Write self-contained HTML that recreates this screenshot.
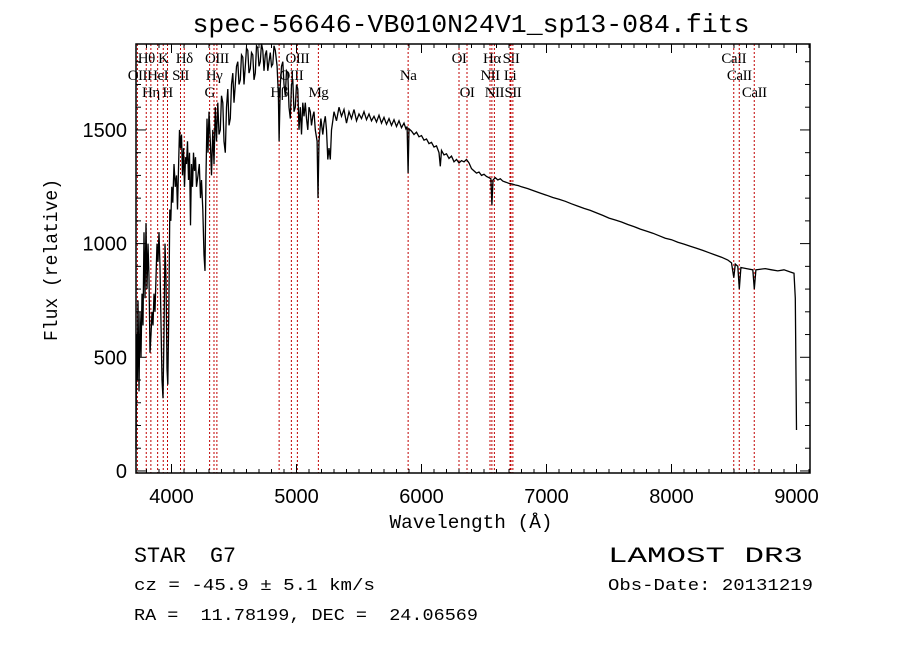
<!DOCTYPE html>
<html><head><meta charset="utf-8"><style>
html,body{margin:0;padding:0;background:#fff;}
svg{display:block;}
text{white-space:pre;}
.mono{font-family:"Liberation Mono",monospace;}
.sans{font-family:"Liberation Sans",sans-serif;}
.serif{font-family:"Liberation Serif",serif;}
</style></head><body>
<svg id="chart" width="900" height="649" viewBox="0 0 900 649" xml:space="preserve">
<rect width="900" height="649" fill="#fff"/>
<text x="471" y="32" text-anchor="middle" class="mono" font-size="26" textLength="557" lengthAdjust="spacingAndGlyphs">spec-56646-VB010N24V1_sp13-084.fits</text>
<g id="lines"></g>
<g id="series"></g>
<g id="axes"></g>
<text x="471" y="528" text-anchor="middle" class="mono" font-size="19" textLength="163" lengthAdjust="spacingAndGlyphs">Wavelength (Å)</text>
<text transform="translate(57,260) rotate(-90)" text-anchor="middle" class="mono" font-size="19" textLength="162" lengthAdjust="spacingAndGlyphs">Flux (relative)</text>
<text x="134" y="562" class="mono" font-size="22" textLength="52" lengthAdjust="spacingAndGlyphs">STAR</text>
<text x="210" y="562" class="mono" font-size="22" textLength="26" lengthAdjust="spacingAndGlyphs">G7</text>
<text x="608" y="562" class="mono" font-size="22" textLength="195" lengthAdjust="spacingAndGlyphs">LAMOST DR3</text>
<text x="134" y="590" class="mono" font-size="17" textLength="241" lengthAdjust="spacingAndGlyphs">cz = -45.9 ± 5.1 km/s</text>
<text x="608" y="590" class="mono" font-size="17" textLength="205" lengthAdjust="spacingAndGlyphs">Obs-Date: 20131219</text>
<text x="134" y="620" class="mono" font-size="17" textLength="344" lengthAdjust="spacingAndGlyphs">RA =  11.78199, DEC =  24.06569</text>
</svg>
<script>
const wavelengths=[
3716,3720,3726,3732,3740,3748,3756,3764,3772,3780,
3788,3796,3804,3812,3820,3828,3836,3844,3852,3860,
3868,3876,3884,3892,3900,3908,3916,3924,3932,3940,
3948,3956,3964,3970,3978,3986,3994,4002,4010,4020,
4030,4040,4048,4056,4064,4072,4080,4088,4096,4104,
4112,4120,4128,4136,4144,4152,4160,4168,4176,4184,
4192,4200,4212,4222,4232,4240,4250,4260,4268,4276,
4284,4292,4300,4310,4320,4330,4340,4350,4360,4370,
4380,4390,4400,4410,4420,4430,4440,4450,4460,4470,
4480,4490,4500,4510,4520,4530,4540,4550,4560,4570,
4580,4590,4600,4610,4620,4630,4640,4650,4660,4670,
4680,4690,4700,4710,4720,4730,4740,4750,4760,4770,
4780,4790,4800,4810,4820,4830,4845,4855,4861,4870,
4880,4890,4900,4910,4920,4930,4940,4950,4960,4970,
4980,4990,5000,5010,5020,5030,5040,5050,5060,5070,
5080,5090,5100,5110,5120,5130,5140,5150,5165,5172,
5180,5195,5210,5220,5230,5240,5250,5260,5270,5280,
5290,5300,5320,5340,5360,5380,5400,5420,5440,5460,
5480,5500,5520,5540,5560,5580,5600,5620,5640,5660,
5680,5700,5720,5740,5760,5780,5800,5820,5840,5860,
5875,5885,5893,5900,5920,5940,5960,5980,6000,6020,
6040,6060,6080,6100,6120,6140,6150,6160,6180,6200,
6220,6240,6260,6280,6300,6320,6340,6360,6380,6400,
6420,6440,6460,6480,6500,6520,6540,6555,6563,6572,
6590,6610,6630,6650,6675,6700,6725,6750,6775,6800,
6850,6900,6950,7000,7050,7100,7150,7200,7250,7300,
7350,7400,7450,7500,7550,7600,7650,7700,7750,7800,
7850,7900,7950,8000,8050,8100,8150,8200,8250,8300,
8350,8400,8450,8480,8498,8510,8530,8542,8555,8600,
8650,8662,8675,8750,8800,8850,8900,8950,8980,8990,
9000];
const fluxes=[
100,600,400,750,350,700,500,780,640,1050,
760,1090,800,1000,850,520,600,700,640,780,
700,850,1000,920,1050,900,650,400,320,600,
1000,850,450,380,700,1150,1100,1250,1180,1350,
1250,1300,1150,1330,1500,1420,1480,1300,1420,1250,
1380,1350,1450,1280,1400,1080,1350,1250,1400,1320,
1380,1250,1300,1350,1200,1280,1150,950,880,1300,
1550,1400,1580,1450,1300,1500,1350,1600,1450,1620,
1480,1500,1650,1620,1450,1400,1600,1680,1520,1550,
1700,1750,1620,1700,1780,1800,1700,1720,1830,1820,
1700,1780,1860,1850,1750,1770,1840,1830,1720,1750,
1870,1860,1780,1800,1880,1850,1760,1830,1850,1760,
1800,1840,1780,1790,1870,1850,1780,1650,1450,1700,
1780,1800,1700,1650,1760,1750,1600,1550,1700,1720,
1580,1600,1700,1680,1500,1600,1480,1620,1560,1620,
1550,1500,1600,1580,1520,1560,1580,1500,1450,1200,
1450,1550,1480,1530,1560,1500,1370,1420,1370,1500,
1540,1580,1540,1600,1560,1590,1530,1580,1550,1590,
1540,1570,1550,1580,1545,1570,1540,1560,1535,1565,
1530,1555,1525,1550,1520,1545,1515,1540,1510,1530,
1505,1515,1310,1505,1495,1480,1490,1470,1475,1455,
1460,1440,1445,1425,1430,1400,1340,1410,1390,1395,
1375,1385,1360,1370,1355,1365,1360,1370,1355,1330,
1320,1310,1315,1300,1305,1295,1290,1285,1170,1280,
1290,1280,1285,1275,1270,1265,1262,1258,1255,1250,
1242,1232,1222,1213,1203,1195,1186,1175,1165,1155,
1146,1135,1124,1112,1104,1095,1084,1075,1064,1055,
1046,1035,1024,1017,1006,998,988,980,970,960,
950,940,928,915,850,910,900,800,895,890,
885,800,885,890,885,880,885,875,870,760,
180];
const lineNames=["OII","Hθ","Hη","HeI","K","H","SII","Hδ","G","Hγ","OIII","Hβ","OIII","OIII","Mg","Na","OI","OI","NII","Hα","NII","Li","SII","SII","CaII","CaII","CaII"];
const lineWaves=[3727,3798,3835,3889,3934,3968,4072,4102,4305,4340,4363,4861,4959,5007,5175,5893,6300,6364,6548,6563,6583,6708,6716,6731,8498,8542,8662];
const lineRows=[2,1,3,2,1,3,2,1,3,2,1,3,2,1,3,2,1,3,2,1,3,2,1,3,1,2,3];
const xTicks=[4000,5000,6000,7000,8000,9000];
const yTicks=[0,500,1000,1500];

const X0=136,X1=810,Y0=44,Y1=473;
const WMIN=3716,WMAX=9108;
const FMIN=-9,FMAX=1878;
function xs(w){return X0+(w-WMIN)*(X1-X0)/(WMAX-WMIN);}
function ys(f){return Y1-(f-FMIN)*(Y1-Y0)/(FMAX-FMIN);}
const NS="http://www.w3.org/2000/svg";
function mk(tag,attrs,parent){const e=document.createElementNS(NS,tag);for(const k in attrs)e.setAttribute(k,attrs[k]);parent.appendChild(e);return e;}

const gl=document.getElementById('lines');
const rowY=[0,63,80,97];
lineWaves.forEach((w,i)=>{
  const x=xs(w);
  const ln=mk('line',{x1:x,x2:x,y1:Y0,y2:Y1,stroke:'#c00000','stroke-width':1,'stroke-dasharray':'2,2'},gl);
  
  
  const t=mk('text',{x:x,y:rowY[lineRows[i]],'text-anchor':'middle','font-size':15,'letter-spacing':'-0.5','class':'serif'},gl);
  t.textContent=lineNames[i];
  
  
});

const gs=document.getElementById('series');
const n=Math.min(wavelengths.length,fluxes.length);
const pts=[];
for(let i=0;i<n;i++)pts.push(xs(wavelengths[i]).toFixed(1)+','+ys(fluxes[i]).toFixed(1));
const pl=mk('polyline',{points:pts.join(' '),fill:'none',stroke:'#000','stroke-width':1.3,'stroke-linejoin':'miter'},gs);



const ga=document.getElementById('axes');
const frame=mk('rect',{x:X0,y:Y0,width:X1-X0,height:Y1-Y0,fill:'none',stroke:'#000','stroke-width':1.5},ga);


for(let w=3800;w<=9100;w+=100){
  const x=xs(w);const major=(w%1000===0);const L=major?9:4;
  mk('line',{x1:x,x2:x,y1:Y1,y2:Y1-L,stroke:'#000','stroke-width':1},ga);
  mk('line',{x1:x,x2:x,y1:Y0,y2:Y0+L,stroke:'#000','stroke-width':1},ga);
}
xTicks.forEach(w=>{
  const t=mk('text',{x:xs(w),y:503,'text-anchor':'middle','font-size':20,'class':'sans'},ga);
  t.textContent=w;
  
  
});
for(let f=0;f<=1800;f+=100){
  const y=ys(f);if(y>Y1)continue;const major=(f%500===0);const L=major?10:5;
  mk('line',{x1:X0,x2:X0+L,y1:y,y2:y,stroke:'#000','stroke-width':1},ga);
  mk('line',{x1:X1,x2:X1-L,y1:y,y2:y,stroke:'#000','stroke-width':1},ga);
}
yTicks.forEach(f=>{
  const t=mk('text',{x:127,y:ys(f)+7,'text-anchor':'end','font-size':20,'class':'sans'},ga);
  t.textContent=f;
  
  
});
</script>
</body></html>
